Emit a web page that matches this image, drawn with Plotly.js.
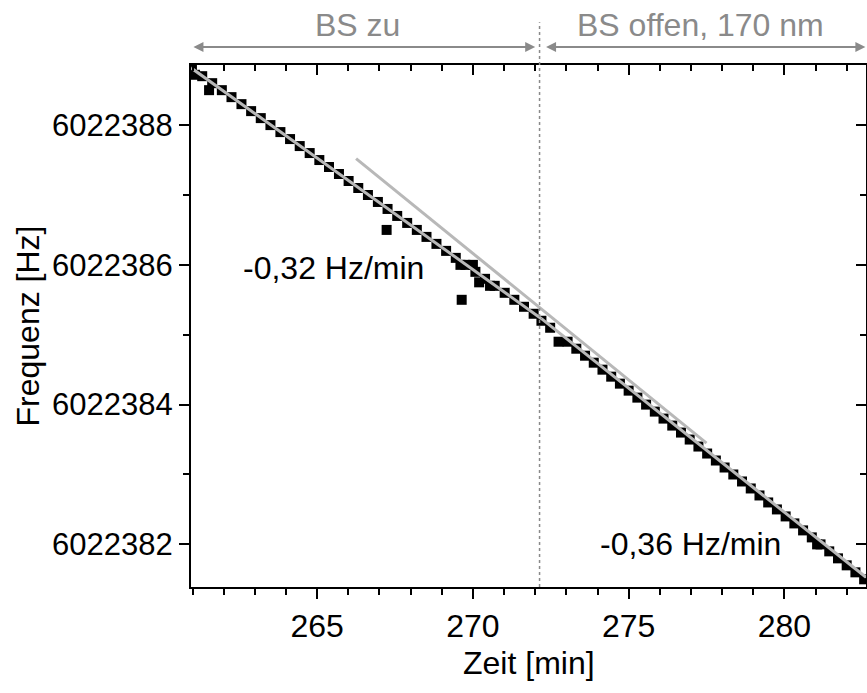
<!DOCTYPE html>
<html>
<head>
<meta charset="utf-8">
<script src="https://cdn.plot.ly/plotly-3.0.1.min.js"></script>
<style>html,body{margin:0;padding:0;background:#fff;}#chart{width:867px;height:693px;}</style>
</head>
<body>
<div id="chart"></div>
<script>
const zeitMin = [
  260.98, 261.08, 261.31, 261.53, 261.63, 261.94, 262.25, 262.57, 262.88, 263.19,
  263.50, 263.82, 264.13, 264.44, 264.76, 265.07, 265.38, 265.70, 266.01, 266.32,
  266.63, 266.95, 267.23, 267.26, 267.57, 267.89, 268.20, 268.51, 268.83, 269.14,
  269.45, 269.60, 269.64, 269.76, 270.00, 270.08, 270.20, 270.39, 270.55, 270.70,
  271.02, 271.33, 271.64, 271.95, 272.20, 272.48, 272.75, 273.04, 273.32, 273.60,
  273.88, 274.16, 274.44, 274.72, 275.00, 275.28, 275.56, 275.84, 276.12, 276.40,
  276.68, 276.96, 277.24, 277.52, 277.80, 278.08, 278.36, 278.64, 278.92, 279.20,
  279.48, 279.76, 280.04, 280.32, 280.60, 280.88, 281.05, 281.16, 281.44, 281.72,
  282.00, 282.28, 282.56
];
const frequenzHz = [
  6022388.80, 6022388.72, 6022388.70, 6022388.50, 6022388.60, 6022388.50, 6022388.40, 6022388.30, 6022388.20, 6022388.10,
  6022388.00, 6022387.90, 6022387.80, 6022387.70, 6022387.60, 6022387.50, 6022387.40, 6022387.30, 6022387.20, 6022387.10,
  6022387.00, 6022386.90, 6022386.50, 6022386.80, 6022386.70, 6022386.60, 6022386.50, 6022386.40, 6022386.30, 6022386.20,
  6022386.10, 6022386.00, 6022385.50, 6022386.00, 6022386.00, 6022385.90, 6022385.75, 6022385.80, 6022385.70, 6022385.70,
  6022385.60, 6022385.50, 6022385.40, 6022385.30, 6022385.20, 6022385.10, 6022384.90, 6022384.90, 6022384.80, 6022384.70,
  6022384.60, 6022384.50, 6022384.40, 6022384.30, 6022384.20, 6022384.10, 6022384.00, 6022383.90, 6022383.80, 6022383.70,
  6022383.60, 6022383.50, 6022383.40, 6022383.30, 6022383.20, 6022383.10, 6022383.00, 6022382.90, 6022382.80, 6022382.70,
  6022382.60, 6022382.50, 6022382.40, 6022382.30, 6022382.20, 6022382.10, 6022382.00, 6022382.00, 6022381.90, 6022381.80,
  6022381.70, 6022381.60, 6022381.50
];

// Linear fits (end points)
const fitZuZeit = [260.95, 272.20];
const fitZuFreq = [6022388.82, 6022385.23];
const fitOffenZeit = [272.20, 282.62];
const fitOffenFreq = [6022385.23, 6022381.53];
const fitOffen2Zeit = [266.25, 277.50];
const fitOffen2Freq = [6022387.52, 6022383.45];

const switchTime = 272.14;
const xRange = [260.95, 282.62];
const yRange = [6022381.39, 6022388.86];

const xTickLabels = ['265', '270', '275', '280'];
const yTickLabels = ['6022382', '6022384', '6022386', '6022388'];
const slopeLabels = ['-0,32 Hz/min', '-0,36 Hz/min'];
const phaseLabels = ['BS zu', 'BS offen, 170 nm'];
const xTitle = 'Zeit [min]';
const yTitle = 'Frequenz [Hz]';

const FONT = '"Liberation Sans", Arial, sans-serif';
const gray = '#8a8a8a';
const fitGray = '#b8b8b8';

const traces = [
  {x: zeitMin, y: frequenzHz, type: 'scatter', mode: 'markers',
   marker: {symbol: 'square', size: 10, color: '#000'}, showlegend: false, hoverinfo: 'x+y'},
  {x: fitZuZeit, y: fitZuFreq, type: 'scatter', mode: 'lines',
   line: {color: fitGray, width: 3}, showlegend: false},
  {x: fitOffenZeit, y: fitOffenFreq, type: 'scatter', mode: 'lines',
   line: {color: fitGray, width: 3}, showlegend: false},
  {x: fitOffen2Zeit, y: fitOffen2Freq, type: 'scatter', mode: 'lines', xaxis: 'x2', yaxis: 'y2',
   line: {color: fitGray, width: 3}, showlegend: false}
];

const tickCommon = {
  showgrid: false, zeroline: false, showline: true, linecolor: '#000', linewidth: 2,
  tickcolor: '#000', tickwidth: 2, ticklen: 10
};

const layout = {
  width: 867, height: 693,
  margin: {l: 191, r: 1, t: 65, b: 106},
  paper_bgcolor: '#fff', plot_bgcolor: '#fff',
  font: {family: FONT, color: '#000'},
  xaxis: Object.assign({}, tickCommon, {
    range: xRange, ticks: 'outside', tickmode: 'array',
    tickvals: xTickLabels.map(Number), ticktext: xTickLabels,
    tickfont: {family: FONT, size: 32, color: '#000'},
    minor: {dtick: 1, tick0: 261, ticks: 'outside', ticklen: 6, tickwidth: 2, tickcolor: '#000'},
    automargin: false
  }),
  yaxis: Object.assign({}, tickCommon, {
    range: yRange, ticks: 'outside', tickmode: 'array',
    tickvals: yTickLabels.map(Number), ticktext: yTickLabels,
    tickfont: {family: FONT, size: 31, color: '#000'},
    minor: {dtick: 1, tick0: 6022381, ticks: 'outside', ticklen: 6, tickwidth: 2, tickcolor: '#000'},
    title: {text: yTitle, font: {family: FONT, size: 32, color: '#000'}, standoff: 3},
    automargin: false
  }),
  xaxis2: Object.assign({}, tickCommon, {
    range: xRange, overlaying: 'x', side: 'top', anchor: 'y2', ticks: 'inside',
    tickmode: 'array', tickvals: xTickLabels.map(Number), showticklabels: false,
    minor: {dtick: 1, tick0: 261, ticks: 'inside', ticklen: 6, tickwidth: 2, tickcolor: '#000'}
  }),
  yaxis2: Object.assign({}, tickCommon, {
    range: yRange, overlaying: 'y', side: 'right', anchor: 'x2', ticks: 'inside',
    tickmode: 'array', tickvals: yTickLabels.map(Number), showticklabels: false,
    minor: {dtick: 1, tick0: 6022381, ticks: 'inside', ticklen: 6, tickwidth: 2, tickcolor: '#000'}
  }),
  shapes: [
    {type: 'line', xref: 'x', yref: 'paper', x0: switchTime, x1: switchTime, y0: 0, y1: 1.082,
     line: {color: gray, width: 1.5, dash: 'dot'}}
  ],
  annotations: [
    {x: 0.5, y: -0.145, xref: 'paper', yref: 'paper', text: xTitle, showarrow: false,
     font: {family: FONT, size: 32, color: '#000'}, xanchor: 'center', yanchor: 'middle'},
    {x: 272.0, y: 1.0345, xref: 'x', yref: 'paper', ax: 260.98, ay: 0, axref: 'x', ayref: 'pixel',
     text: '', showarrow: true, arrowhead: 2, startarrowhead: 2, arrowside: 'end+start',
     arrowsize: 1, arrowwidth: 2, arrowcolor: gray},
    {x: 282.6, y: 1.0345, xref: 'x', yref: 'paper', ax: 272.3, ay: 0, axref: 'x', ayref: 'pixel',
     text: '', showarrow: true, arrowhead: 2, startarrowhead: 2, arrowside: 'end+start',
     arrowsize: 1, arrowwidth: 2, arrowcolor: gray},
    {x: 266.3, y: 1.0766, xref: 'x', yref: 'paper', text: phaseLabels[0], showarrow: false,
     font: {family: FONT, size: 32, color: gray}, xanchor: 'center', yanchor: 'middle'},
    {x: 277.3, y: 1.0766, xref: 'x', yref: 'paper', text: phaseLabels[1], showarrow: false,
     font: {family: FONT, size: 32, color: gray}, xanchor: 'center', yanchor: 'middle'},
    {x: 265.54, y: 6022385.96, xref: 'x', yref: 'y', text: slopeLabels[0], showarrow: false,
     font: {family: FONT, size: 32, color: '#000'}, xanchor: 'center', yanchor: 'middle'},
    {x: 277.0, y: 6022382.0, xref: 'x', yref: 'y', text: slopeLabels[1], showarrow: false,
     font: {family: FONT, size: 32, color: '#000'}, xanchor: 'center', yanchor: 'middle'}
  ]
};

Plotly.newPlot('chart', traces, layout, {displayModeBar: false, staticPlot: true});
</script>
</body>
</html>
